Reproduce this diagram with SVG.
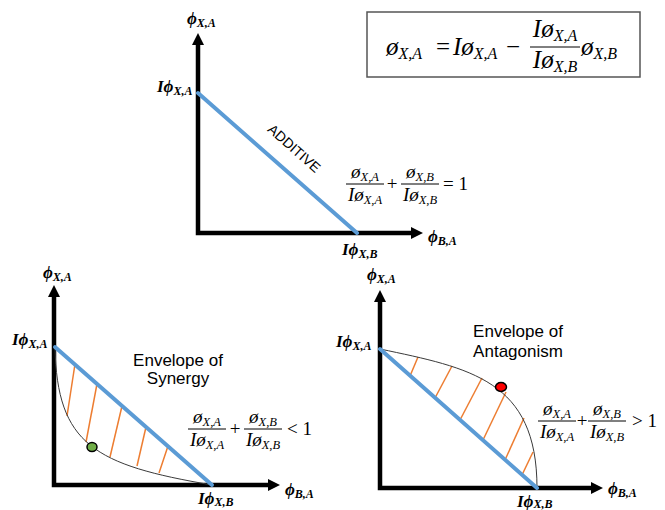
<svg xmlns="http://www.w3.org/2000/svg" width="665" height="510" viewBox="0 0 665 510">
<style>
.axis{fill:none;stroke:#000;stroke-width:4.5;marker-start:url(#ah);marker-end:url(#ah)}
.add{stroke:#5b9bd5;stroke-width:4;stroke-linecap:round}
.curve{fill:none;stroke:#3a3a3a;stroke-width:1}
.hatch{stroke:#ed7d31;stroke-width:1.5}
.lbl{font-family:"Liberation Serif","DejaVu Serif",serif;font-style:italic;font-weight:bold;font-size:17px;fill:#000}
.ls{font-size:12px}
.m{font-family:"Liberation Serif","DejaVu Serif",serif;font-style:italic;font-size:19px;fill:#000}
.ms{font-size:12.5px}
.op{font-family:"Liberation Serif","DejaVu Serif",serif;font-size:19px;fill:#000}
.big{font-size:25px}
.bs{font-size:16px}
.bar{stroke:#000;stroke-width:1}
.env{font-family:"Liberation Sans",Arial,sans-serif;font-size:17px;fill:#000;text-anchor:middle}
.mid{text-anchor:middle}
</style>
<defs>
<marker id="ah" viewBox="0 0 12 12" refX="0" refY="6" markerWidth="12" markerHeight="12" markerUnits="userSpaceOnUse" orient="auto-start-reverse">
<path d="M0,0 L12,6 L0,12 z" fill="#000"/>
</marker>
</defs>

<g id="formula-box">
<rect x="367" y="12" width="273" height="65" fill="#fff" stroke="#555" stroke-width="1.5"/>
<text class="m big" x="386" y="55">ø<tspan class="bs" dy="4">X,A</tspan></text>
<text class="op big mid" x="443" y="55">=</text>
<text class="m big" x="453" y="55">Iø<tspan class="bs" dy="4">X,A</tspan></text>
<text class="op big mid" x="513" y="55">−</text>
<text class="m big mid" x="555" y="37">Iø<tspan class="bs" dy="4">X,A</tspan></text>
<line class="bar" x1="530" y1="47" x2="580" y2="47"/>
<text class="m big mid" x="555" y="68">Iø<tspan class="bs" dy="4">X,B</tspan></text>
<text class="m big" x="581" y="55">ø<tspan class="bs" dy="4">X,B</tspan></text>
</g>

<g id="additive-plot">
<polyline class="axis" points="198,45 198,233 411,233"/>
<line class="add" x1="198" y1="93" x2="357" y2="233"/>
<text class="env" style="font-size:14px" transform="translate(291,152) rotate(41.5)">ADDITIVE</text>
<text class="lbl" x="187" y="24">ϕ<tspan class="ls" dy="3">X,A</tspan></text>
<text class="lbl" x="157" y="92">Iϕ<tspan class="ls" dy="3">X,A</tspan></text>
<text class="lbl" x="342" y="255">Iϕ<tspan class="ls" dy="3">X,B</tspan></text>
<text class="lbl" x="428" y="242">ϕ<tspan class="ls" dy="3">B,A</tspan></text>
<g id="additive-eq">
<text class="m mid" x="365" y="178">ø<tspan class="ms" dy="3">X,A</tspan></text>
<line class="bar" x1="346" y1="184" x2="384" y2="184"/>
<text class="m mid" x="365" y="201">Iø<tspan class="ms" dy="3">X,A</tspan></text>
<text class="op mid" x="392" y="190">+</text>
<text class="m mid" x="420" y="178">ø<tspan class="ms" dy="3">X,B</tspan></text>
<line class="bar" x1="401" y1="184" x2="439" y2="184"/>
<text class="m mid" x="420" y="201">Iø<tspan class="ms" dy="3">X,B</tspan></text>
<text class="op" x="443" y="190">= 1</text>
</g>
</g>

<g id="synergy-plot">
<polyline class="axis" points="54,297 54,485 268,485"/>
<g class="hatch">
<line x1="67" y1="416" x2="75" y2="364"/>
<line x1="86" y1="442" x2="97" y2="384"/>
<line x1="110" y1="457" x2="122" y2="406"/>
<line x1="137" y1="466" x2="146" y2="427"/>
<line x1="159" y1="473" x2="168" y2="446"/>
</g>
<path class="curve" d="M55,347 C57,445 95,465 212,485"/>
<line class="add" x1="55" y1="347" x2="212" y2="485"/>
<ellipse cx="92" cy="447" rx="5" ry="4.5" fill="#70ad47" stroke="#000" stroke-width="1.5"/>
<text class="env" x="178" y="366">Envelope of</text>
<text class="env" x="178" y="384">Synergy</text>
<text class="lbl" x="43" y="278">ϕ<tspan class="ls" dy="3">X,A</tspan></text>
<text class="lbl" x="12" y="345">Iϕ<tspan class="ls" dy="3">X,A</tspan></text>
<text class="lbl" x="198" y="504">Iϕ<tspan class="ls" dy="2">X,B</tspan></text>
<text class="lbl" x="285" y="495">ϕ<tspan class="ls" dy="3">B,A</tspan></text>
<g id="synergy-eq">
<text class="m mid" x="207" y="423">ø<tspan class="ms" dy="3">X,A</tspan></text>
<line class="bar" x1="188" y1="429" x2="226" y2="429"/>
<text class="m mid" x="207" y="446">Iø<tspan class="ms" dy="3">X,A</tspan></text>
<text class="op mid" x="235" y="435">+</text>
<text class="m mid" x="263" y="423">ø<tspan class="ms" dy="3">X,B</tspan></text>
<line class="bar" x1="244" y1="429" x2="282" y2="429"/>
<text class="m mid" x="263" y="446">Iø<tspan class="ms" dy="3">X,B</tspan></text>
<text class="op" x="287" y="435">&lt; 1</text>
</g>
</g>

<g id="antagonism-plot">
<polyline class="axis" points="380,302 380,488 591,488"/>
<g class="hatch">
<line x1="410" y1="376" x2="418" y2="357"/>
<line x1="435" y1="398" x2="452" y2="366"/>
<line x1="460" y1="420" x2="482" y2="378"/>
<line x1="483" y1="440" x2="506" y2="392"/>
<line x1="505" y1="460" x2="524" y2="418"/>
<line x1="522" y1="475" x2="533" y2="452"/>
</g>
<path class="curve" d="M380,349 C470,368 537,380 537,488"/>
<line class="add" x1="380" y1="349" x2="537" y2="488"/>
<ellipse cx="501" cy="387" rx="5.5" ry="4.5" fill="#ff0000" stroke="#000" stroke-width="1.5"/>
<text class="env" x="518" y="337">Envelope of</text>
<text class="env" x="518" y="357">Antagonism</text>
<text class="lbl" x="367" y="280">ϕ<tspan class="ls" dy="3">X,A</tspan></text>
<text class="lbl" x="336" y="347">Iϕ<tspan class="ls" dy="3">X,A</tspan></text>
<text class="lbl" x="517" y="507">Iϕ<tspan class="ls" dy="1">X,B</tspan></text>
<text class="lbl" x="608" y="494">ϕ<tspan class="ls" dy="3">B,A</tspan></text>
<g id="antagonism-eq">
<text class="m mid" x="557" y="415">ø<tspan class="ms" dy="3">X,A</tspan></text>
<line class="bar" x1="538" y1="421" x2="576" y2="421"/>
<text class="m mid" x="557" y="438">Iø<tspan class="ms" dy="3">X,A</tspan></text>
<text class="op mid" x="582" y="427">+</text>
<text class="m mid" x="607" y="415">ø<tspan class="ms" dy="3">X,B</tspan></text>
<line class="bar" x1="588" y1="421" x2="626" y2="421"/>
<text class="m mid" x="607" y="438">Iø<tspan class="ms" dy="3">X,B</tspan></text>
<text class="op" x="632" y="427">&gt; 1</text>
</g>
</g>
</svg>
